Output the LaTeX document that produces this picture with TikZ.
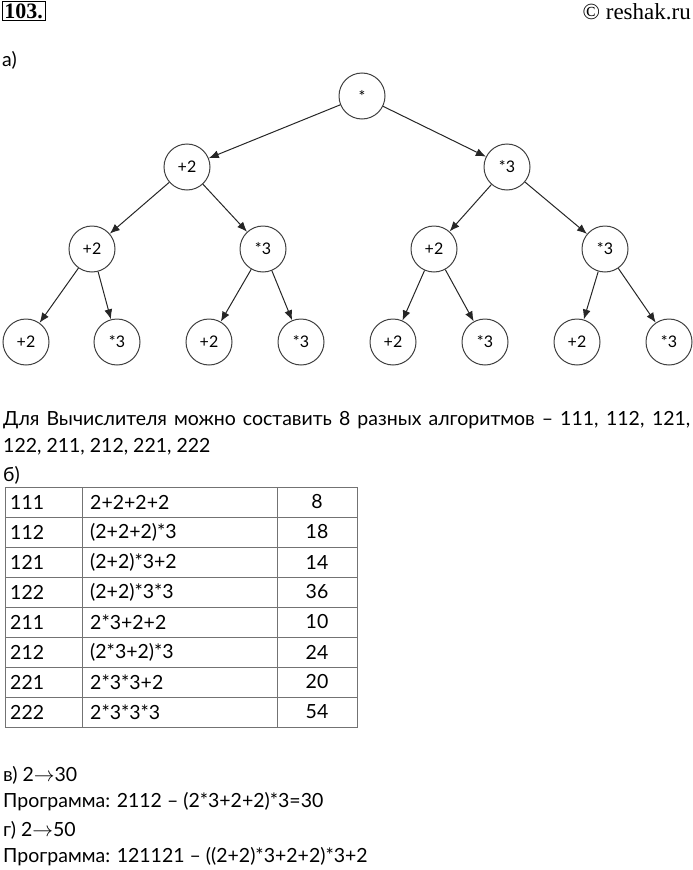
\documentclass[tikz,border=0pt]{standalone}
\usepackage{fontspec}
\setmainfont{Lato}
\newfontfamily\serifhead{Liberation Serif}
\usetikzlibrary{arrows.meta}
\begin{document}
\begin{tikzpicture}[x=1pt,y=-1pt,
  op/.style={circle,draw=black!75,line width=1pt,minimum size=46pt,inner sep=0pt,font=\fontsize{16}{18}\selectfont},
  edge/.style={draw=black!85,line width=1pt,-{Latex[length=10pt,width=8pt]}},
  txt/.style={anchor=west,inner sep=0pt,font=\fontsize{19.5}{23}\selectfont},
  cell/.style={inner sep=0pt,font=\fontsize{19.5}{23}\selectfont},
  tline/.style={draw=black!55,line width=1pt}]
\useasboundingbox (0,0) rectangle (693,870);
% header
\node[draw,line width=1pt,inner sep=2pt,anchor=north west,font=\serifhead\bfseries\fontsize{22}{24}\selectfont] (num) at (2,1) {103.};
\node[anchor=north east,inner sep=0pt,font=\serifhead\fontsize{23}{25}\selectfont] (copy) at (691,3) {© reshak.ru};
\node[txt] (pa) at (2,60) {а)};
% tree
\node[op] (root) at (362,96) {*};
\node[op] (l) at (187,167) {+2};
\node[op] (r) at (507,167) {*3};
\node[op] (ll) at (92,249) {+2};
\node[op] (lr) at (263,249) {*3};
\node[op] (rl) at (434,249) {+2};
\node[op] (rr) at (605,249) {*3};
\node[op] (lll) at (26,342) {+2};
\node[op] (llr) at (117,342) {*3};
\node[op] (lrl) at (209,342) {+2};
\node[op] (lrr) at (301,342) {*3};
\node[op] (rll) at (393,342) {+2};
\node[op] (rlr) at (485,342) {*3};
\node[op] (rrl) at (577,342) {+2};
\node[op] (rrr) at (669,342) {*3};
\foreach \p/\c in {root/l,root/r,l/ll,l/lr,r/rl,r/rr,ll/lll,ll/llr,lr/lrl,lr/lrr,rl/rll,rl/rlr,rr/rrl,rr/rrr}
  \draw[edge] (\p) -- (\c);
% text
\node[txt] (t1) at (3,420) {\makebox[687pt][s]{Для Вычислителя можно составить 8 разных алгоритмов – 111, 112, 121,}};
\node[txt] (t2) at (3,447) {122, 211, 212, 221, 222};
\node[txt] (pb) at (3,475) {б)};
% table
\draw[tline] (5,487) rectangle (357,727);
\foreach \k in {1,...,7} \draw[tline] (5,487+30*\k) -- (357,487+30*\k);
\draw[tline] (82,487) -- (82,727);
\draw[tline] (277,487) -- (277,727);
\foreach \a/\b/\c [count=\i from 0] in {111/2+2+2+2/8,112/(2+2+2)*3/18,121/(2+2)*3+2/14,122/(2+2)*3*3/36,211/2*3+2+2/10,212/(2*3+2)*3/24,221/2*3*3+2/20,222/2*3*3*3/54}{
  \node[cell,anchor=west] (c1-\i) at (10,502+30*\i) {\a};
  \node[cell,anchor=west] (c2-\i) at (90,502+30*\i) {\b};
  \node[cell] (c3-\i) at (317,502+30*\i) {\c};
}
% bottom
\node[txt] (pv) at (3,775) {в) 2$\rightarrow$30};
\node[txt] (pv2) at (3,802) {Программа: 2112 – (2*3+2+2)*3=30};
\node[txt] (pg) at (3,830) {г) 2$\rightarrow$50};
\node[txt] (pg2) at (3,857) {Программа: 121121 – ((2+2)*3+2+2)*3+2};
\end{tikzpicture}
\end{document}
